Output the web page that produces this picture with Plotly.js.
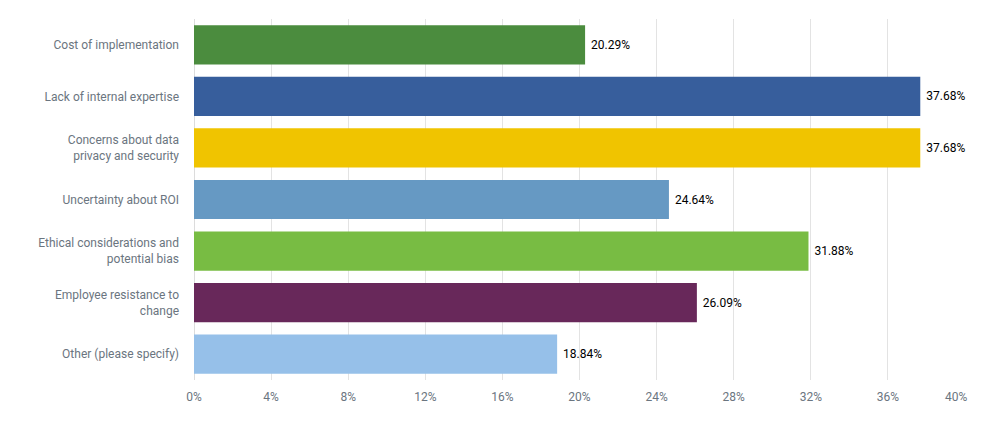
<!DOCTYPE html>
<html>
<head>
<meta charset="utf-8">
<script src="https://cdn.plot.ly/plotly-3.0.1.min.js"></script>
<style>
  html, body { margin: 0; padding: 0; background: #fff; }
  #chart { width: 1000px; height: 448px; }
</style>
</head>
<body>
<div id="chart"></div>
<script>
// Answer choices, top to bottom
var categories = [
    'Cost of implementation',
    'Lack of internal expertise',
    'Concerns about data<br>privacy and security',
    'Uncertainty about ROI',
    'Ethical considerations and<br>potential bias',
    'Employee resistance to<br>change',
    'Other (please specify)'
];
var percents = [20.29, 37.68, 37.68, 24.64, 31.88, 26.09, 18.84];
var barColors = ['#4b8c3e', '#375e9c', '#f0c400', '#6699c3', '#78bc43', '#68285a', '#96c0e9'];
var tickValues = [0, 4, 8, 12, 16, 20, 24, 28, 32, 36, 40];

// last tick label sits a bit inside the plot edge in the original
var tickText = tickValues.map(function (v, i) {
    var t = v + '%';
    if (i == tickValues.length - 1) t += '\u00a0\u00a0\u00a0\u00a0\u00a0\u00a0';
    return t;
});

var bars = {
    type: 'bar',
    orientation: 'h',
    y: categories,
    x: percents,
    marker: { color: barColors },
    text: percents.map(function (p) { return '\u00a0' + p.toFixed(2) + '%'; }),
    textposition: 'outside',
    textfont: { family: 'Roboto, sans-serif', size: 12, color: '#000' },
    cliponaxis: false,
    hoverinfo: 'none'
};

var layout = {
    width: 1000,
    height: 448,
    margin: { l: 194, r: 35, t: 19, b: 68, pad: 0 },
    paper_bgcolor: '#fff',
    plot_bgcolor: '#fff',
    showlegend: false,
    bargap: 0.24,
    font: { family: 'Roboto, sans-serif', size: 12, color: '#6b7580' },
    xaxis: {
        range: [0, 40],
        tickvals: tickValues,
        ticktext: tickText,
        showgrid: true,
        gridcolor: '#e3e3e3',
        gridwidth: 1,
        zeroline: true,
        zerolinecolor: '#dcdcdc',
        ticks: '',
        ticklabelstandoff: 8,
        fixedrange: true
    },
    yaxis: {
        autorange: 'reversed',
        ticks: '',
        ticklabelstandoff: 14,
        showgrid: false,
        fixedrange: true
    }
};

Plotly.newPlot('chart', [bars], layout, { displayModeBar: false, staticPlot: true });
</script>
</body>
</html>
